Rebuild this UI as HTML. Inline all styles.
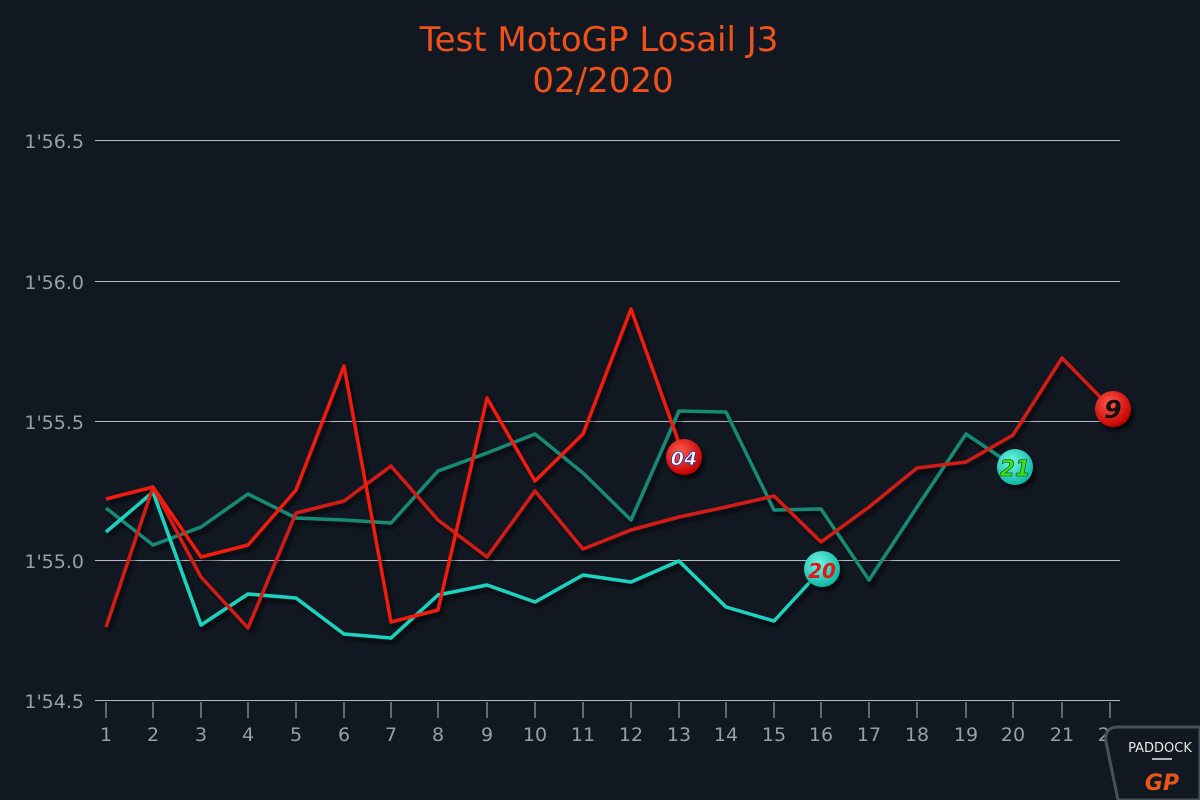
<!DOCTYPE html>
<html><head><meta charset="utf-8"><style>
html,body{margin:0;padding:0;background:#121822;}
svg{display:block}
text{font-family:"DejaVu Sans","Liberation Sans",sans-serif}
</style></head><body>
<svg width="1200" height="800" viewBox="0 0 1200 800" xmlns="http://www.w3.org/2000/svg">
<defs>
<filter id="sh" x="-10%" y="-10%" width="120%" height="120%"><feDropShadow dx="3" dy="4" stdDeviation="2" flood-color="#000" flood-opacity="0.7"/></filter>
<radialGradient id="gr" cx="40%" cy="35%" r="65%"><stop offset="0" stop-color="#ff5a4a"/><stop offset="1" stop-color="#c40000"/></radialGradient>
<radialGradient id="gc" cx="40%" cy="35%" r="65%"><stop offset="0" stop-color="#6ff7e4"/><stop offset="1" stop-color="#0fb8a4"/></radialGradient>
</defs>
<rect width="1200" height="800" fill="#121822"/>
<text x="599" y="51" text-anchor="middle" font-size="34" fill="#f0521a">Test MotoGP Losail J3</text>
<text x="603" y="92" text-anchor="middle" font-size="34" fill="#f0521a">02/2020</text>
<g stroke="#b8bcc2" stroke-width="1">
<line x1="95" y1="140.5" x2="1120" y2="140.5"/>
<line x1="95" y1="281.5" x2="1120" y2="281.5"/>
<line x1="95" y1="421.5" x2="1120" y2="421.5"/>
<line x1="95" y1="560.5" x2="1120" y2="560.5"/>
<line x1="95" y1="700.5" x2="1120" y2="700.5"/>
</g>
<g fill="#9a9ea6" font-size="19" text-anchor="end">
<text x="84" y="148">1'56.5</text><text x="84" y="289">1'56.0</text><text x="84" y="429">1'55.5</text><text x="84" y="568">1'55.0</text><text x="84" y="708">1'54.5</text>
</g>
<g stroke="#b8bcc2" stroke-width="1">
<line x1="106" y1="702" x2="106" y2="718"/><line x1="153" y1="702" x2="153" y2="718"/><line x1="201" y1="702" x2="201" y2="718"/><line x1="248" y1="702" x2="248" y2="718"/><line x1="296" y1="702" x2="296" y2="718"/><line x1="344" y1="702" x2="344" y2="718"/><line x1="391" y1="702" x2="391" y2="718"/><line x1="438" y1="702" x2="438" y2="718"/><line x1="487" y1="702" x2="487" y2="718"/><line x1="535" y1="702" x2="535" y2="718"/><line x1="583" y1="702" x2="583" y2="718"/><line x1="631" y1="702" x2="631" y2="718"/><line x1="679" y1="702" x2="679" y2="718"/><line x1="726" y1="702" x2="726" y2="718"/><line x1="774" y1="702" x2="774" y2="718"/><line x1="821" y1="702" x2="821" y2="718"/><line x1="869" y1="702" x2="869" y2="718"/><line x1="917" y1="702" x2="917" y2="718"/><line x1="966" y1="702" x2="966" y2="718"/><line x1="1013" y1="702" x2="1013" y2="718"/><line x1="1062" y1="702" x2="1062" y2="718"/><line x1="1110" y1="702" x2="1110" y2="718"/>
</g>
<g fill="#9a9ea6" font-size="19" text-anchor="middle">
<text x="106" y="741">1</text><text x="153" y="741">2</text><text x="201" y="741">3</text><text x="248" y="741">4</text><text x="296" y="741">5</text><text x="344" y="741">6</text><text x="391" y="741">7</text><text x="438" y="741">8</text><text x="487" y="741">9</text><text x="535" y="741">10</text><text x="583" y="741">11</text><text x="631" y="741">12</text><text x="679" y="741">13</text><text x="726" y="741">14</text><text x="774" y="741">15</text><text x="821" y="741">16</text><text x="869" y="741">17</text><text x="917" y="741">18</text><text x="966" y="741">19</text><text x="1013" y="741">20</text><text x="1062" y="741">21</text><text x="1110" y="741">22</text>
</g>
<g fill="none" stroke-width="3.5" stroke-linejoin="round" filter="url(#sh)">
<polyline stroke="#158a74" points="106,508 153,545 201,527 248,494 296,518 344,520 391,523 438,471 487,453 535,434 583,473 631,520 679,411 726,412 774,510 821,509 869,580 917,507 966,434 1015,467"/>
<polyline stroke="#1ed3bf" points="106,532 153,492 201,625 248,594 296,598 344,634 391,638 438,595 487,585 535,602 583,575 631,582 679,561 726,607 774,621 822,569"/>
<polyline stroke="#d41c18" points="106,627 153,487 201,577 248,628 296,513 344,501 391,466 438,520 487,557 535,491 583,549 631,530 679,517 726,507 774,496 821,542 869,507 917,468 966,462 1013,435 1062,358 1113,410"/>
<polyline stroke="#f01a0e" points="106,499 153,487 201,557 248,545 296,490 344,366 391,622 438,610 487,398 535,481 583,434 631,309 684,457"/>
</g>
<g filter="url(#sh)">
<circle cx="684" cy="457" r="18" fill="url(#gr)"/>
<circle cx="822" cy="569" r="18" fill="url(#gc)"/>
<circle cx="1015" cy="467" r="18" fill="url(#gc)"/>
<circle cx="1113" cy="409" r="18" fill="url(#gr)"/>
</g>
<g font-weight="bold" font-style="italic" text-anchor="middle">
<text x="684" y="465" font-size="19" fill="#fff" stroke="#2233aa" stroke-width="0.8">04</text>
<text x="822" y="578" font-size="20" fill="#e01818">20</text>
<text x="1015" y="476" font-size="22" fill="#3ee01a" stroke="#114411" stroke-width="0.6">21</text>
<text x="1113" y="418" font-size="25" fill="#111">9</text>
</g>
<path d="M1200,727 L1118,727 Q1104,727 1106,742 L1118,800 L1200,800 Z" fill="#121822" stroke="#4a4f58" stroke-width="3"/>
<text x="1160" y="752" text-anchor="middle" font-size="13" fill="#e8e8e8">PADDOCK</text>
<line x1="1152" y1="759" x2="1172" y2="759" stroke="#e8e8e8" stroke-width="1.5"/>
<text x="1162" y="790" text-anchor="middle" font-size="22" font-style="italic" font-weight="bold" fill="#e8561a">GP</text>
</svg>
</body></html>
